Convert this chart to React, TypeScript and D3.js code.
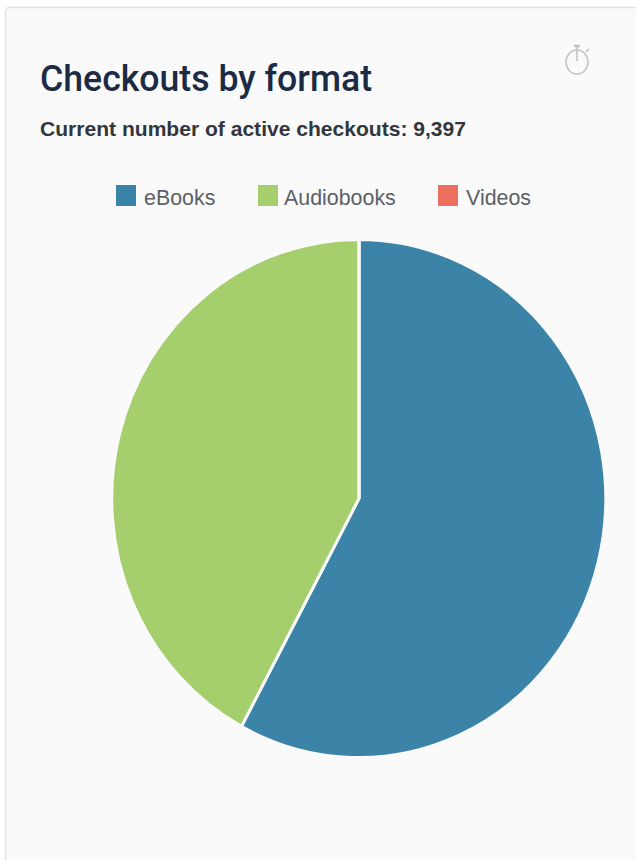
import * as d3 from 'd3'

const formats = ['eBooks', 'Audiobooks', 'Videos']
const checkouts = [5440, 3957, 0]
const colors = ['#3c83a8', '#a5cf6c', '#ee6f60']
const legendX = [116, 258, 438]

const WIDTH = 636
const HEIGHT = 860
const FONT = '"Liberation Sans", Arial, sans-serif'

export default function App() {
  // source image is a bit stretched, so the pie is drawn unit-size and scaled
  const rx = 247
  const ry = 259
  const color = d3.scaleOrdinal<string, string>().domain(formats).range(colors)
  const pie = d3.pie<number>().sort(null)
  const arc = d3.arc<d3.PieArcDatum<number>>().innerRadius(0).outerRadius(1)
  const arcs = pie(checkouts)

  return (
    <svg
      width={WIDTH}
      height={HEIGHT}
      style={{ position: 'absolute', left: 0, top: 0, display: 'block', background: '#fff' }}
    >
      <rect x={5.5} y={7.5} width={WIDTH + 20} height={HEIGHT + 20} rx={4} fill="#fafafa" stroke="#e2e2e2" strokeWidth={1.5} />

      <text x={40} y={91} fontFamily="Roboto, sans-serif" fontSize={36} fontWeight={500} fill="#1c2a44" textLength={332} lengthAdjust="spacingAndGlyphs">
        Checkouts by format
      </text>
      <text x={40} y={136} fontFamily={FONT} fontSize={21} fontWeight={700} fill="#33363d" textLength={426} lengthAdjust="spacingAndGlyphs">
        Current number of active checkouts: 9,397
      </text>

      <g fill="none" stroke="#c4c4c4" strokeWidth={1.6}>
        <ellipse cx={577} cy={62} rx={11} ry={12} />
        <path d="M577 45V61M586 52L589 49" />
        <path d="M574 46H580" strokeWidth={2.5} />
      </g>

      {formats.map((f, i) => (
        <g key={f} transform={`translate(${legendX[i]},185)`}>
          <rect width={20} height={21} fill={color(f)} />
          <text x={i === 1 ? 26 : 28} y={20} fontFamily={FONT} fontSize={21.4} fill="#5c6067">
            {f}
          </text>
        </g>
      ))}

      <g transform={`translate(359,498.5) scale(${rx},${ry})`}>
        {arcs.map((d, i) => (
          <path
            key={formats[i]}
            d={arc(d) ?? ''}
            fill={color(formats[i])}
            stroke="#fafafa"
            strokeWidth={3}
            vectorEffect="non-scaling-stroke"
          />
        ))}
      </g>
    </svg>
  )
}
